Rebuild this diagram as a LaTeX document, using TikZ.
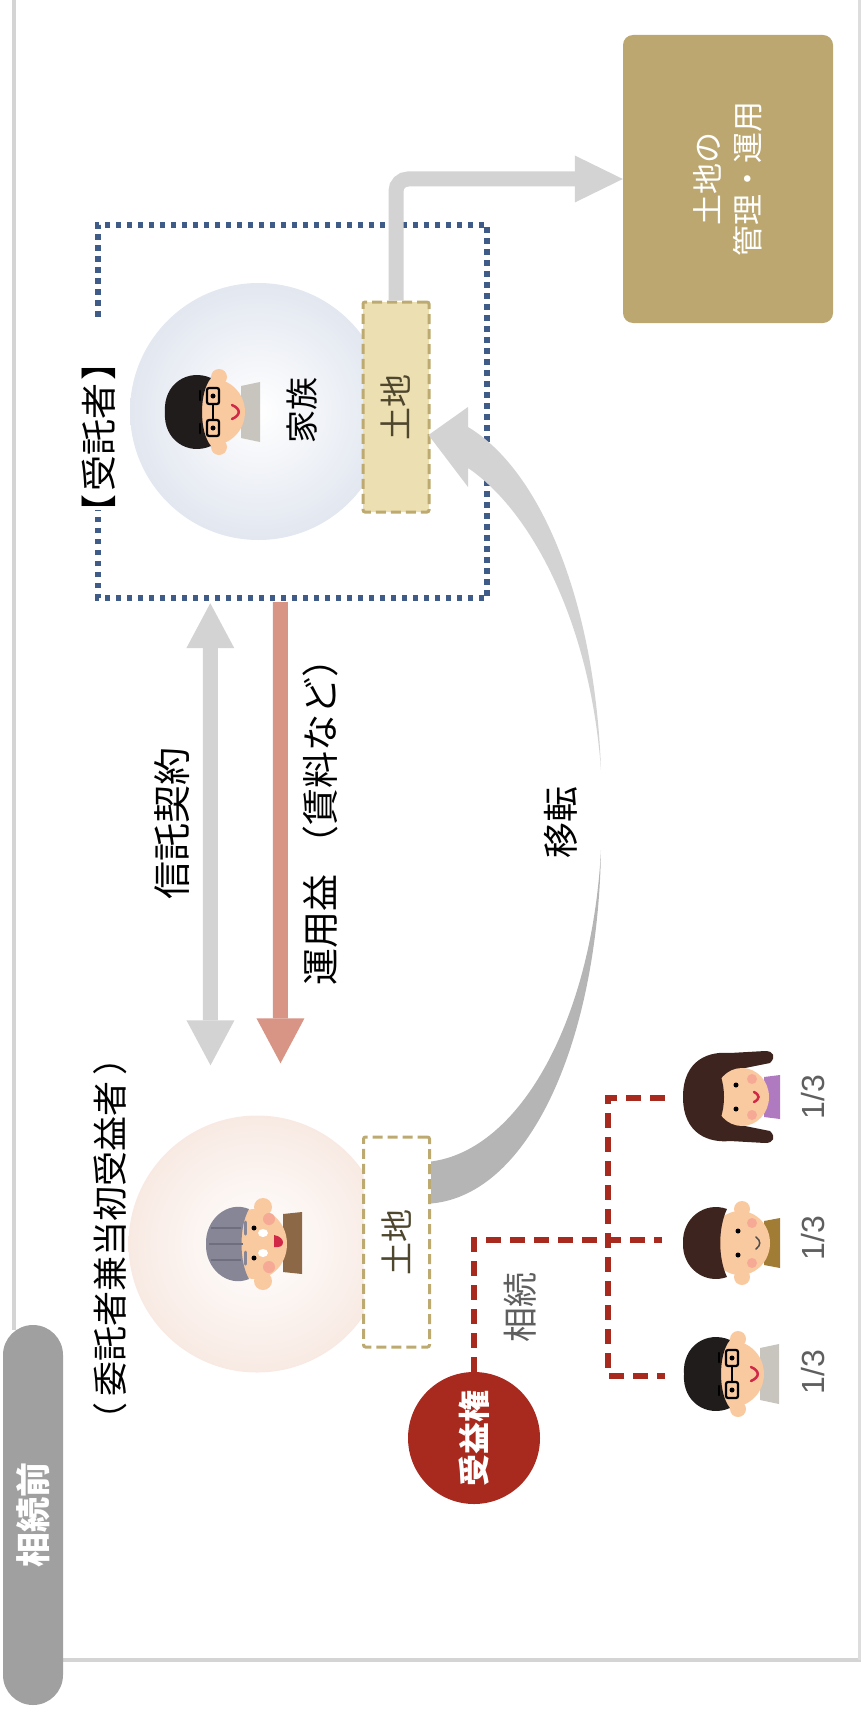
\documentclass[tikz,border=0pt]{standalone}
\usepackage{fontspec}
\usepackage{graphicx}
\setmainfont{Noto Sans CJK JP}
\newfontfamily\numfont{Liberation Sans}
\usetikzlibrary{arrows.meta,calc}

% palette
\definecolor{framegray}{RGB}{212,212,212}
\definecolor{tabgray}{RGB}{160,160,160}
\definecolor{arrowgray}{RGB}{211,211,211}
\definecolor{backgray}{RGB}{181,181,181}
\definecolor{incomered}{RGB}{216,148,133}
\definecolor{landline}{RGB}{189,170,112}
\definecolor{landfill}{RGB}{236,223,178}
\definecolor{landtext}{RGB}{78,70,45}
\definecolor{mgmtfill}{RGB}{187,167,111}
\definecolor{trustblue}{RGB}{62,92,135}
\definecolor{benefred}{RGB}{168,42,30}
\definecolor{labelgray}{RGB}{95,95,95}
\definecolor{peachedge}{RGB}{240,205,189}
\definecolor{blueedge}{RGB}{202,211,227}
\definecolor{peachmid}{RGB}{248,234,227}
\definecolor{bluemid}{RGB}{226,231,240}
% people
\definecolor{skin}{RGB}{249,201,160}
\definecolor{cheek}{RGB}{246,170,150}
\definecolor{hairblack}{RGB}{32,28,28}
\definecolor{hairgray}{RGB}{134,134,150}
\definecolor{hairgraydark}{RGB}{110,110,126}
\definecolor{hairbrown}{RGB}{62,36,30}
\definecolor{shirtgray}{RGB}{200,196,190}
\definecolor{shirtbrown}{RGB}{140,104,70}
\definecolor{shirtpurple}{RGB}{176,122,192}
\definecolor{shirtolive}{RGB}{160,124,52}
\definecolor{mouthred}{RGB}{208,40,70}

\pgfdeclareradialshading{peachball}{\pgfpoint{0bp}{0bp}}{color(0bp)=(white); color(25bp)=(peachmid); color(50bp)=(peachedge)}
\pgfdeclareradialshading{blueball}{\pgfpoint{0bp}{0bp}}{color(0bp)=(white); color(25bp)=(bluemid); color(50bp)=(blueedge)}

\tikzset{
  % elderly woman, head turned to the left
  elder/.pic={
    \fill[shirtbrown] (28,-30) -- (47,-32) -- (47,30) -- (28,28) -- cycle;
    \fill[skin] (8,-37) circle (9pt); \fill[skin] (8,37) circle (9pt);
    \fill[skin] (0,0) ellipse (32pt and 35pt);
    \fill[cheek] (14,-25) circle (6pt); \fill[cheek] (14,23) circle (6pt);
    \fill[hairgray] (-6,-35) .. controls (-28,-44) and (-50,-24) .. (-49,0)
      .. controls (-50,24) and (-28,44) .. (-6,35)
      .. controls (-16,18) and (-16,-18) .. cycle;
    \draw[hairgraydark, line width=2pt] (-44,-16) -- (-14,-16) (-46,0) -- (-12,0) (-44,16) -- (-14,16);
    \draw[hairgray, line width=3pt, line cap=round] (-10,-22) -- (-10,-10) (-10,8) -- (-10,20);
    \fill[black] (-1,-16) circle (2.5pt); \fill[black] (-1,14) circle (2.5pt);
    \fill[white] (8,-11) ellipse (5pt and 4pt); \fill[white] (8,9) ellipse (5pt and 4pt);
    \fill[mouthred] (19,-9) .. controls (31,-7) and (31,5) .. (19,3) -- cycle;
  },
  % man with glasses
  man/.pic={
    \fill[shirtgray] (28,-26) -- (47,-30) -- (47,30) -- (28,26) -- cycle;
    \fill[skin] (6,-35) circle (8pt); \fill[skin] (6,35) circle (8pt);
    \fill[skin] (0,0) ellipse (32pt and 33pt);
    \fill[hairblack] (-2,-34) .. controls (-25,-44) and (-50,-28) .. (-48,0)
      .. controls (-50,28) and (-25,44) .. (-2,34)
      .. controls (-14,20) and (-14,-20) .. cycle;
    \draw[black, line width=2.2pt, rounded corners=2pt] (-6,-24) rectangle (6,-8) (-6,8) rectangle (6,24);
    \draw[black, line width=2pt] (0,-8) -- (0,8);
    \fill[black] (0,-16) circle (2.5pt); \fill[black] (0,16) circle (2.5pt);
    \draw[black, line width=2.5pt, line cap=round] (-13,-21) -- (-13,-12) (-13,12) -- (-13,21);
    \draw[mouthred, line width=2.5pt, line cap=round] (19,-7) .. controls (28,-3) and (28,3) .. (19,7);
  },
  % woman with long hair
  lady/.pic={
    \fill[shirtpurple] (34,-20) -- (50,-22) -- (50,22) -- (34,20) -- cycle;
    \fill[hairbrown] (-47,0) .. controls (-47,-38) and (-20,-46) .. (0,-44)
      -- (35,-46) .. controls (44,-46) and (46,-40) .. (40,-34) -- (10,-28)
      -- (10,28) -- (40,34) .. controls (46,40) and (44,46) .. (35,46)
      -- (0,44) .. controls (-20,46) and (-47,38) .. (-47,0) -- cycle;
    \fill[skin] (12,0) ellipse (27pt and 29pt);
    \fill[cheek] (22,-18) circle (5pt); \fill[cheek] (22,18) circle (5pt);
    \fill[hairbrown] (-18,-36) .. controls (-2,-20) and (-2,20) .. (-18,36)
      .. controls (-48,30) and (-48,-30) .. cycle;
    \fill[black] (6,-12) circle (2.5pt); \fill[black] (6,12) circle (2.5pt);
    \draw[mouthred, line width=2.5pt, line cap=round] (24,-5) .. controls (30,-2) and (30,2) .. (24,5);
  },
  % woman with short hair
  mom/.pic={
    \fill[shirtolive] (34,-22) -- (50,-25) -- (50,25) -- (34,22) -- cycle;
    \fill[skin] (12,-34) circle (8pt); \fill[skin] (12,34) circle (8pt);
    \fill[skin] (10,0) ellipse (30pt and 32pt);
    \fill[cheek] (22,-20) circle (5pt); \fill[cheek] (22,20) circle (5pt);
    \fill[hairbrown] (-3,-34) .. controls (-25,-42) and (-48,-25) .. (-47,0)
      .. controls (-48,25) and (-25,42) .. (-3,34)
      .. controls (-12,15) and (-12,-15) .. cycle;
    \fill[black] (8,-12) circle (2.5pt); \fill[black] (8,12) circle (2.5pt);
    \draw[black!70, line width=1.5pt, line cap=round] (26,-6) .. controls (31,-2) and (31,2) .. (26,6);
  },
}

\begin{document}
\begin{tikzpicture}[x=1pt, y=-1pt,
  lbl/.style={rotate=90, inner sep=0pt, font=\fontsize{37}{44}\selectfont},
  landbox/.style={draw=landline, line width=3pt, dash pattern=on 10pt off 5pt,
    rounded corners=2pt, minimum width=66pt, minimum height=210pt, inner sep=0pt,
    text=landtext, font=\fontsize{33}{40}\selectfont},
  widearrow/.style={line width=15pt},
  bigtip/.tip={Triangle[length=45pt, width=48pt, line width=0pt]},
  dotframe/.style={draw=trustblue, line width=5.5pt, dash pattern=on 5.5pt off 5.5pt},
  reddash/.style={draw=benefred, line width=6pt, dash pattern=on 15pt off 9pt},
  ball/.style={circle, minimum size=257pt, inner sep=0pt, shade},
]
\useasboundingbox (0,0) rectangle (861,1715);

% page frame
\draw[framegray, line width=4pt] (14,0) -- (14,1330);
\draw[framegray, line width=4pt] (60,1660) -- (861,1660);
\draw[framegray!80, line width=3pt] (859.5,0) -- (859.5,1660);

% section tab
\node[fill=tabgray, rounded corners=30pt, minimum width=60pt, minimum height=380pt, inner sep=0pt,
  text=white, font=\bfseries\fontsize{35}{40}\selectfont] (tab) at (33,1515) {\rotatebox{90}{相続前}};

% parties
\node[ball, shading=peachball] (settlor) at (257,1244) {};
\node[ball, shading=blueball] (family) at (258.5,411.5) {};
\pic at (255,1244) {elder};
\pic at (213,412) {man};

\node[lbl, font=\fontsize{35}{42}\selectfont] (settlorlbl) at (110,1239) {（\kern6pt委託者兼当初受益者\kern6pt）};
\node[lbl, font=\fontsize{33}{40}\selectfont] (familylbl) at (302,410) {家族};

% trustee frame with a gap for its label
\node[minimum width=389pt, minimum height=373pt, inner sep=0pt] (trustee) at (292.5,411.5) {};
\draw[dotframe] ($(trustee.north west)+(0,92)$) -- (trustee.north west) -- (trustee.north east)
  -- (trustee.south east) -- (trustee.south west) -- ($(trustee.south west)+(0,-88)$);
\node[lbl, font=\fontsize{36}{42}\selectfont] (trusteelbl) at (99,437) {【\kern3pt受託者\kern3pt】};

% land held before and after the transfer
\node[landbox, fill=white] (land1) at (396.5,1242) {\rotatebox{90}{土地}};
\node[landbox, fill=landfill] (land2) at (396,407) {\rotatebox{90}{土地}};

% land management
\node[fill=mgmtfill, rounded corners=10pt, minimum width=210pt, minimum height=288pt, inner sep=0pt] (mgmt) at (728,179) {};
\node[lbl, text=white, align=center, font=\fontsize{31}{40}\selectfont] (mgmtlbl) at (mgmt.center) {土地の\\管理・運用};
\draw[arrowgray, widearrow, rounded corners=12pt, -{Triangle[length=48pt, width=47pt, line width=0pt]}]
  (land2.north) |- (mgmt.west);

% trust contract and income
\coordinate (contractA) at ($(trustee.south west)+(112.5,5)$);
\coordinate (contractB) at ($(settlor.north)+(-46.5,-50)$);
\draw[arrowgray, widearrow, bigtip-bigtip] (contractA) -- (contractB);
\node[lbl, font=\fontsize{38}{44}\selectfont] (contractlbl) at (172,823) {信託契約};

\coordinate (incomeA) at ($(trustee.south west)+(182.5,4)$);
\coordinate (incomeB) at ($(settlor.north)+(23.5,-52)$);
\draw[incomered, widearrow, -bigtip] (incomeA) -- (incomeB);
\node[lbl] (incomelbl) at (320,813) {運用益\kern12pt（賃料など）};

% transfer of the land: curved band arrow
\coordinate (mvA) at ($(land1.north east)+(0,26)$);
\coordinate (mvB) at ($(land1.north east)+(0,68)$);
\coordinate (mvTip) at ($(land2.east)+(-2,28)$);
\fill[backgray] (mvA) .. controls (520,1150) and (592,1020) .. (601,850)
  .. controls (598,1040) and (530,1195) .. (mvB) -- cycle;
\fill[arrowgray] (468,427) .. controls (540,470) and (595,600) .. (601,770)
  .. controls (590,620) and (530,510) .. (468,468) -- (468,487) -- (mvTip) -- (468,407) -- cycle;
\node[lbl, font=\fontsize{36}{42}\selectfont] (movelbl) at (561,822) {移転};

% beneficial interest and its inheritance
\node[circle, fill=benefred, minimum size=132pt, inner sep=0pt, text=white,
  font=\bfseries\fontsize{32}{38}\selectfont] (benef) at (474,1438) {\rotatebox{90}{受益権}};
\node[lbl, text=labelgray, font=\fontsize{35}{42}\selectfont] (inheritlbl) at (520,1307) {相続};

\pic at (730,1097) {lady};
\pic at (730,1243) {mom};
\pic at (732,1374) {man};
\coordinate (p1w) at (665,1098);
\coordinate (p2w) at (662,1240);
\coordinate (p3w) at (665,1376);
\draw[reddash] (benef.north) |- (p2w);
\draw[reddash] (p1w) -- ++(-57,0) |- (p3w);

\node[lbl, text=labelgray, font=\numfont\fontsize{32}{36}\selectfont] (share1) at (813,1097) {1/3};
\node[lbl, text=labelgray, font=\numfont\fontsize{32}{36}\selectfont] (share2) at (813,1238) {1/3};
\node[lbl, text=labelgray, font=\numfont\fontsize{32}{36}\selectfont] (share3) at (813,1372) {1/3};
\end{tikzpicture}
\end{document}
